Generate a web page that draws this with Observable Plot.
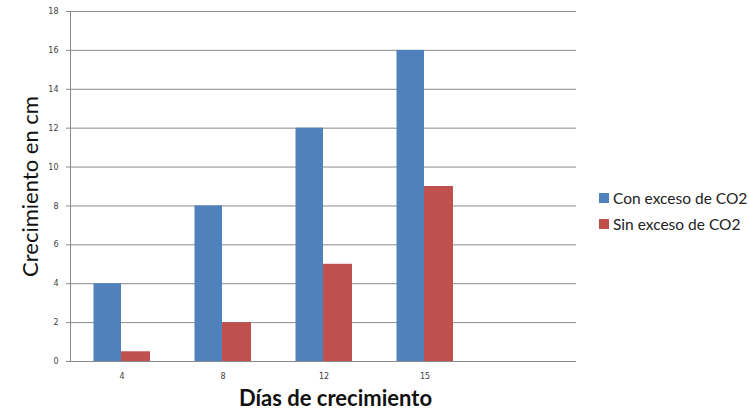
<!DOCTYPE html>
<html>
<head>
<meta charset="utf-8">
<script src="https://cdn.jsdelivr.net/npm/d3@7"></script>
<script src="https://cdn.jsdelivr.net/npm/@observablehq/plot@0.6"></script>
<style>
  body { margin: 0; background: #fff; }
  #wrap { position: relative; width: 749px; height: 409px; }
  #legend { position: absolute; left: 599px; top: 185px; font-family: Lato, "Open Sans", sans-serif; font-size: 15.5px; color: #222; }
  #legend div { display: flex; align-items: center; height: 26px; }
  #legend span.sw { display: inline-block; width: 10px; height: 10px; margin-right: 4px; }
</style>
</head>
<body>
<div id="wrap"><div id="chart"></div><div id="legend"></div></div>
<script>
const days = ["4", "8", "12", "15", " "];
const conExceso = [4, 8, 12, 16];
const sinExceso = [0.5, 2, 5, 9];
const series = ["Con exceso de CO2", "Sin exceso de CO2"];
const colors = ["#4F81BD", "#C0504D"];
const yTicks = [0, 2, 4, 6, 8, 10, 12, 14, 16, 18];

const data = days.slice(0, 4).map((d, i) => ({day: d, con: conExceso[i], sin: sinExceso[i]}));

const chart = Plot.plot({
  width: 749,
  height: 409,
  marginLeft: 70,
  marginRight: 173,
  marginTop: 11,
  marginBottom: 48,
  style: {background: "#fff", fontFamily: "DejaVu Sans, sans-serif"},
  x: {type: "band", domain: days, padding: 0},
  y: {domain: [0, 18], ticks: yTicks},
  color: {domain: series, range: colors},
  marks: [
    Plot.ruleY(yTicks, {stroke: "#8a8a8a", strokeWidth: 1}),
    Plot.frame({anchor: "left", stroke: "#8a8a8a"}),
    Plot.barY(data, {x: "day", y: "con", fill: d => series[0], insetLeft: 22.5, insetRight: 51}),
    Plot.barY(data, {x: "day", y: "sin", fill: d => series[1], insetLeft: 50, insetRight: 22}),
    Plot.axisY({ticks: yTicks, tickSize: 4, tickPadding: 8, fontSize: 8, fill: "#404040", stroke: "#8a8a8a", label: null}),
    Plot.axisX({tickSize: 0, tickPadding: 12, fontSize: 8, fill: "#404040", label: null}),
    Plot.text(["Crecimiento en cm"], {frameAnchor: "left", textAnchor: "middle", rotate: -90, dx: -40, fontSize: 22, fontFamily: "Lato, sans-serif", fill: "#111"}),
    Plot.text(["Días de crecimiento"], {frameAnchor: "bottom", dy: 44, dx: 12, fontSize: 22, fontWeight: "bold", fontFamily: "Lato, sans-serif", fill: "#111"})
  ]
});
document.getElementById("chart").appendChild(chart);

const legend = document.getElementById("legend");
series.forEach((s, i) => {
  const row = document.createElement("div");
  row.innerHTML = `<span class="sw" style="background:${colors[i]}"></span>${s}`;
  legend.appendChild(row);
});
</script>
</body>
</html>
